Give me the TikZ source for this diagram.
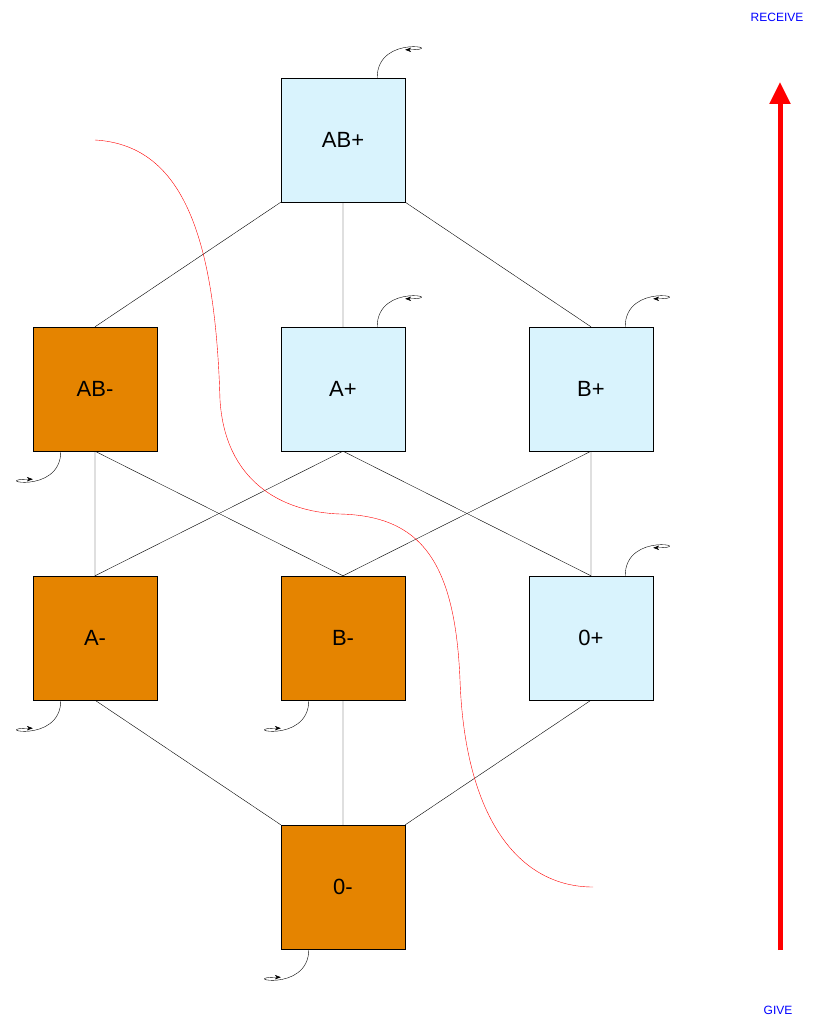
\documentclass[tikz,border=0pt]{standalone}
\usepackage{fontspec}
\setmainfont{Liberation Sans}
\usetikzlibrary{arrows.meta}
\begin{document}
\begin{tikzpicture}[x=1pt,y=-1pt,
  box/.style={draw,minimum size=124pt,inner sep=0,font=\fontsize{22}{26}\selectfont},
  posbox/.style={box,fill=cyan!15},
  negbox/.style={box,fill=orange!85!yellow!90!black},
  selfloop/.style={-{Stealth[length=6pt]},thin},
  e/.style={thin}]
\useasboundingbox (0,0) rectangle (824,1024);
\node[posbox] (abp) at (343,140) {AB+};
\node[negbox] (abm) at (95,389) {AB-};
\node[posbox] (ap) at (343,389) {A+};
\node[posbox] (bp) at (591,389) {B+};
\node[negbox] (am) at (95,638) {A-};
\node[negbox] (bm) at (343,638) {B-};
\node[posbox] (op) at (591,638) {0+};
\node[negbox] (om) at (343,887) {0-};
\draw[e] (abp.south west)--(abm.north) (abp.south)--(ap.north) (abp.south east)--(bp.north);
\draw[e] (abm.south)--(am.north) (abm.south)--(bm.north);
\draw[e] (ap.south)--(am.north) (ap.south)--(op.north);
\draw[e] (bp.south)--(bm.north) (bp.south)--(op.north);
\draw[e] (am.south)--(om.north west) (bm.south)--(om.north) (op.south)--(om.north east);
\foreach \n in {abp,ap,bp,op}{
  \draw[selfloop] ([xshift=-28pt]\n.north east) .. controls +(0,-45) and +(45,0) .. ([yshift=28pt]\n.north east);}
\foreach \n in {abm,am,bm,om}{
  \draw[selfloop] ([xshift=28pt]\n.south west) .. controls +(0,45) and +(-45,0) .. ([yshift=-28pt]\n.south west);}
\draw[red,thin] (95,140) .. controls (180,145) and (215,230) .. (220,400)
  .. controls (225,480) and (280,512) .. (340,514)
  .. controls (420,516) and (455,560) .. (460,680)
  .. controls (465,820) and (520,887) .. (593,887);
\coordinate (g) at (780,950);
\coordinate (r) at (780,82);
\draw[red,line width=5pt,-{Triangle[length=22pt,width=20pt]}] (g)--(r);
\node[blue,font=\fontsize{12}{14}\selectfont] (rec) at (777,17) {RECEIVE};
\node[blue,font=\fontsize{12}{14}\selectfont] (give) at (778,1010) {GIVE};
\end{tikzpicture}
\end{document}
